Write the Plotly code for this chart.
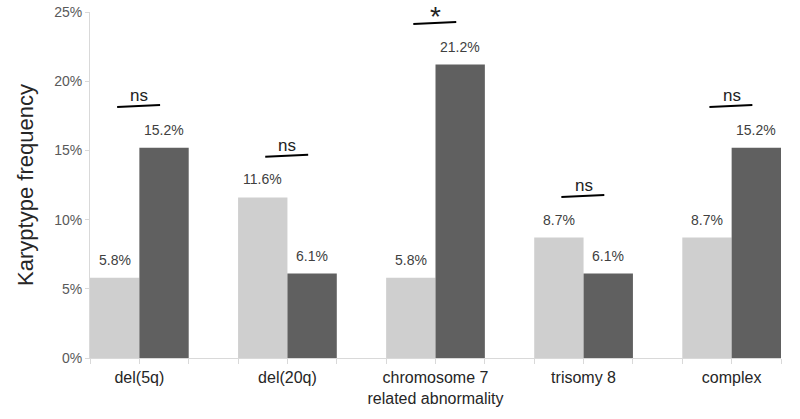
import plotly.graph_objects as go

categories = ["del(5q)", "del(20q)", "chromosome 7<br>related abnormality", "trisomy 8", "complex"]
group_a = [5.8, 11.6, 5.8, 8.7, 8.7]
group_b = [15.2, 6.1, 21.2, 6.1, 15.2]
sig_labels = ["ns", "ns", "*", "ns", "ns"]
y_ticks = [0, 5, 10, 15, 20, 25]
y_tick_text = ["0%", "5%", "10%", "15%", "20%", "25%"]

FONT = "Liberation Sans"
AXIS_COLOR = "#d9d9d9"

fig = go.Figure()
fig.add_trace(go.Bar(x=categories, y=group_a, marker=dict(color="#cfcfcf", line=dict(width=0))))
fig.add_trace(go.Bar(x=categories, y=group_b, marker=dict(color="#606060", line=dict(width=0))))

# invisible numeric axis for tick marks at every bar boundary
fig.add_trace(go.Scatter(x=[-1/3, 13/3], y=[0, 0], xaxis="x2", mode="markers",
                         marker=dict(opacity=0), showlegend=False, hoverinfo="skip"))

for i, (a, b) in enumerate(zip(group_a, group_b)):
    for off, v in ((-1/6, a), (1/6, b)):
        fig.add_annotation(x=i + off, y=v, xref="x2", yref="y", text=f"{v:.1f}%",
                           showarrow=False, yanchor="bottom", yshift=8,
                           font=dict(size=14, color="#404040", family=FONT))

for i, (lab, a, b) in enumerate(zip(sig_labels, group_a, group_b)):
    yl = max(a, b) + 3.0
    fig.add_shape(type="line", xref="x2", yref="y", x0=i - 0.15, x1=i + 0.14,
                  y0=yl - 0.06, y1=yl + 0.08, line=dict(color="black", width=2))
    if lab == "*":
        fig.add_annotation(x=i, y=yl, xref="x2", yref="y", text=lab, showarrow=False,
                           yanchor="top", yshift=23, borderpad=0,
                           font=dict(size=28, color="#222", family=FONT))
    else:
        fig.add_annotation(x=i, y=yl, xref="x2", yref="y", text=lab, showarrow=False,
                           yanchor="bottom", yshift=-1,
                           font=dict(size=17, color="#222", family=FONT))

fig.update_layout(
    width=800, height=419,
    margin=dict(l=90, r=19, t=12, b=61),
    plot_bgcolor="white", paper_bgcolor="white",
    barmode="group", bargap=1/3, bargroupgap=0,
    showlegend=False,
    font=dict(family=FONT),
    xaxis=dict(range=[-1/3, 13/3], showline=True, linecolor=AXIS_COLOR, linewidth=1,
               ticks="", tickfont=dict(size=16, color="#262626", family=FONT),
               ticklabelstandoff=5,
               showgrid=False, automargin=False),
    xaxis2=dict(range=[-1/3, 13/3], overlaying="x", anchor="y", side="bottom",
                tickmode="array", tickvals=[-1/3 + k/3 for k in range(15)],
                showticklabels=False, ticks="outside", ticklen=5, tickcolor=AXIS_COLOR,
                showgrid=False, zeroline=False, showline=False, automargin=False),
    yaxis=dict(range=[0, 25], tickvals=y_ticks, ticktext=y_tick_text, showgrid=False,
               zeroline=False, showline=True, linecolor=AXIS_COLOR, linewidth=1,
               ticks="outside", ticklen=4, tickcolor=AXIS_COLOR, automargin=False,
               tickfont=dict(size=14, color="#595959", family=FONT),
               title=dict(text="Karyptype frequency", font=dict(size=22, color="#262626", family=FONT),
                          standoff=14)),
)

fig.write_html("out.html", config={"displayModeBar": False},
               post_script="document.body.style.margin='0';")
